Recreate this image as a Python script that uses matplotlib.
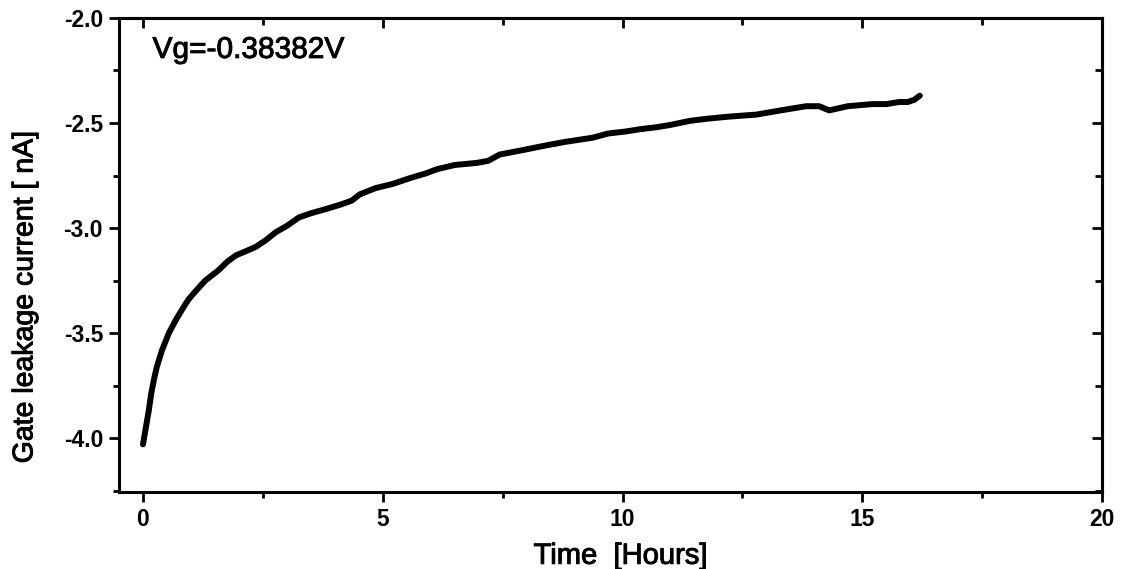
import matplotlib.pyplot as plt
import matplotlib.patheffects as pe
from matplotlib.ticker import MultipleLocator

plt.rcParams['font.family'] = ['Liberation Sans', 'DejaVu Sans']

# Data
time_h = [0.0, 0.06, 0.12, 0.17, 0.23, 0.29, 0.4, 0.54, 0.68, 0.81, 0.95, 1.10,
          1.3, 1.58, 1.76, 1.94, 2.15, 2.35, 2.55, 2.77, 3.0, 3.25, 3.5, 3.81,
          4.1, 4.35, 4.52, 4.85, 5.21, 5.6, 5.9, 6.13, 6.5, 6.96, 7.2, 7.44,
          7.9, 8.33, 8.8, 9.38, 9.7, 10.08, 10.35, 10.71, 10.98, 11.4, 11.75,
          12.2, 12.79, 13.3, 13.83, 14.1, 14.31, 14.7, 15.21, 15.5, 15.77,
          15.95, 16.08, 16.2]
current_na = [-4.03, -3.95, -3.87, -3.79, -3.72, -3.66, -3.58, -3.50, -3.44,
              -3.39, -3.34, -3.30, -3.25, -3.20, -3.16, -3.13, -3.11, -3.09,
              -3.06, -3.02, -2.99, -2.95, -2.93, -2.91, -2.89, -2.87, -2.84,
              -2.81, -2.79, -2.76, -2.74, -2.72, -2.70, -2.69, -2.68, -2.65,
              -2.63, -2.61, -2.59, -2.57, -2.55, -2.54, -2.53, -2.52, -2.51,
              -2.49, -2.48, -2.47, -2.46, -2.44, -2.42, -2.42, -2.44, -2.42,
              -2.41, -2.41, -2.40, -2.40, -2.39, -2.37]

fig = plt.figure(figsize=(11.28, 5.69), dpi=100)
ax = fig.add_axes([0.1055, 0.1353, 0.8715, 0.8331])

ax.plot(time_h, current_na, color='black', linewidth=4.3,
        solid_joinstyle='round', solid_capstyle='round')

ax.set_xlim(-0.5, 20)
ax.set_ylim(-4.257, -2.0)

ax.xaxis.set_major_locator(MultipleLocator(5))
ax.xaxis.set_minor_locator(MultipleLocator(2.5))
ax.yaxis.set_major_locator(MultipleLocator(0.5))
ax.yaxis.set_minor_locator(MultipleLocator(0.25))
ax.yaxis.set_major_formatter(plt.FormatStrFormatter('%.1f'))

for s in ax.spines.values():
    s.set_linewidth(2.2)

ax.tick_params(which='major', direction='out', length=7.5, width=2,
               labelsize=16.5, pad=4)
ax.tick_params(axis='y', which='major', pad=4)
ax.tick_params(which='minor', direction='out', length=4.5, width=2)
for lab in ax.get_xticklabels() + ax.get_yticklabels():
    lab.set_fontweight('bold')

# inward ticks on the top and right sides
top = ax.secondary_xaxis('top')
top.xaxis.set_major_locator(MultipleLocator(5))
top.xaxis.set_minor_locator(MultipleLocator(2.5))
top.tick_params(which='major', direction='in', length=7.5, width=2, labeltop=False)
top.tick_params(which='minor', direction='in', length=5, width=2)
top.spines['top'].set_linewidth(2.2)

right = ax.secondary_yaxis('right')
right.yaxis.set_major_locator(MultipleLocator(0.5))
right.yaxis.set_minor_locator(MultipleLocator(0.25))
right.tick_params(which='major', direction='in', length=7.5, width=2, labelright=False)
right.tick_params(which='minor', direction='in', length=5, width=2)
right.spines['right'].set_linewidth(2.2)

# slightly heavier strokes for the labels, like the scanned original
heavy = [pe.withStroke(linewidth=0.7, foreground='black')]

ax.set_xlabel('Time  [Hours]', fontsize=21, path_effects=heavy)
ax.xaxis.set_label_coords(0.51, -0.105)
ax.set_ylabel('Gate leakage current [ nA]', fontsize=20.5, path_effects=heavy)
ax.yaxis.set_label_coords(-0.082, 0.411)
ax.text(0.2, -2.19, 'Vg=-0.38382V', fontsize=21.5, va='baseline',
        path_effects=heavy)

fig.savefig('out.png', dpi=100)
